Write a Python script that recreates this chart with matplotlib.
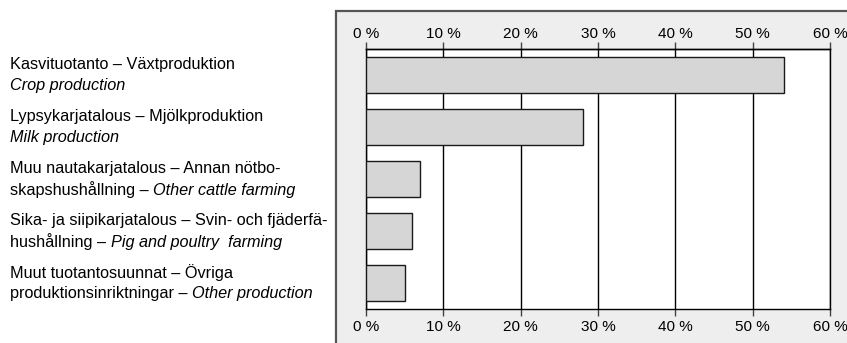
import matplotlib
matplotlib.use("Agg")
import matplotlib.pyplot as plt
import matplotlib.transforms as mtransforms
from matplotlib.patches import Rectangle

# ── Data ──────────────────────────────────────────────────────────────────────
shares = [54, 28, 7, 6, 5]   # %
label_line1 = [
    "Kasvituotanto – Växtproduktion",
    "Lypsykarjatalous – Mjölkproduktion",
    "Muu nautakarjatalous – Annan nötbo-",
    "Sika- ja siipikarjatalous – Svin- och fjäderfä-",
    "Muut tuotantosuunnat – Övriga",
]
label_prefix2 = [
    "",
    "",
    "skapshushållning – ",
    "hushållning – ",
    "produktionsinriktningar – ",
]
label_english = [
    "Crop production",
    "Milk production",
    "Other cattle farming",
    "Pig and poultry  farming",
    "Other production",
]
xticks = [0, 10, 20, 30, 40, 50, 60]
xtick_labels = ["0 %", "10 %", "20 %", "30 %", "40 %", "50 %", "60 %"]

FONT = ["Liberation Sans", "DejaVu Sans"]
FS_TICK = 11
FS_LABEL = 11.7
plt.rcParams["font.family"] = FONT

W, H = 847, 343
fig = plt.figure(figsize=(W / 100, H / 100), dpi=100)

# grey panel behind the chart
fig.patches.append(Rectangle((335.5 / W, -0.05), 1.0, 0.05 + 1 - 11.5 / H,
                             transform=fig.transFigure, facecolor="#eeeeee",
                             edgecolor="#555555", linewidth=1.6, zorder=-5))

ax = fig.add_axes([366 / W, 1 - 309 / H, (830 - 366) / W, (309 - 49) / H])
ax.set_facecolor("white")

y = list(range(len(shares)))
ax.barh(y, shares, height=0.7, color="#d6d6d6", edgecolor="#1a1a1a",
        linewidth=1.0, zorder=3)

ax.set_xlim(0, 60)
ax.set_ylim(len(shares) - 0.5, -0.5)
ax.set_yticks([])
ax.set_xticks(xticks)
ax.set_xticklabels(xtick_labels, fontsize=FS_TICK)
ax.tick_params(axis="x", length=5, width=1.0, color="#444444", pad=3)
ax.grid(axis="x", color="black", linewidth=1.0, zorder=1)
ax.set_axisbelow(True)
for s in ax.spines.values():
    s.set_color("black")
    s.set_linewidth(1.0)

# same scale repeated along the top
top = ax.secondary_xaxis("top")
top.set_xticks(xticks)
top.set_xticklabels(xtick_labels, fontsize=FS_TICK)
top.tick_params(axis="x", length=5, width=1.0, color="#444444", pad=1)
top.spines["top"].set_linewidth(1.0)

# category labels on the left, centred on each bar
trans = mtransforms.blended_transform_factory(fig.transFigure, ax.transData)
x0 = 10 / W
for i in range(len(shares)):
    ax.annotate(label_line1[i], xy=(x0, i), xycoords=trans,
                xytext=(0, 7.6), textcoords="offset points",
                ha="left", va="center", fontsize=FS_LABEL, annotation_clip=False)
    if label_prefix2[i]:
        t = ax.annotate(label_prefix2[i], xy=(x0, i), xycoords=trans,
                        xytext=(0, -7.6), textcoords="offset points",
                        ha="left", va="center", fontsize=FS_LABEL,
                        annotation_clip=False)
        ax.annotate(label_english[i], xy=(1, 0), xycoords=t,
                    ha="left", va="bottom", fontsize=FS_LABEL, style="italic",
                    annotation_clip=False)
    else:
        ax.annotate(label_english[i], xy=(x0, i), xycoords=trans,
                    xytext=(0, -7.6), textcoords="offset points",
                    ha="left", va="center", fontsize=FS_LABEL, style="italic",
                    annotation_clip=False)

fig.savefig("out.png", dpi=100)
